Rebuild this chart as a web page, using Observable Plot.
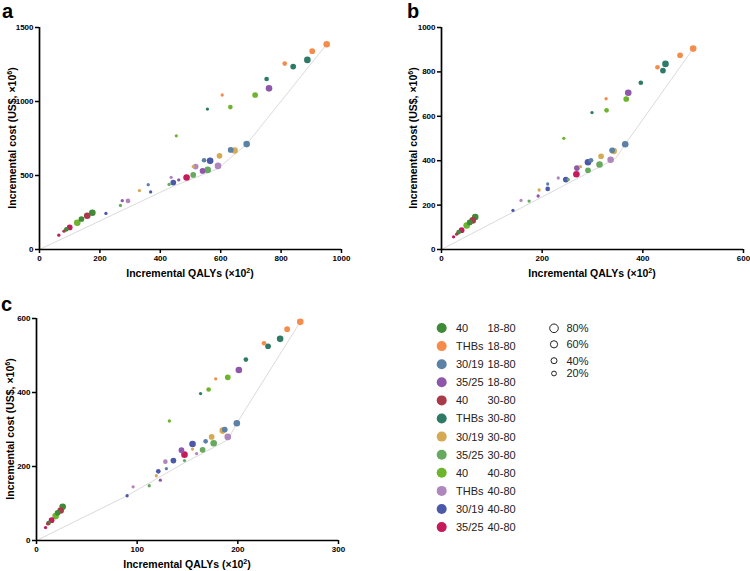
<!DOCTYPE html>
<html><head><meta charset="utf-8">
<script src="https://cdn.jsdelivr.net/npm/d3@7"></script>
<script src="https://cdn.jsdelivr.net/npm/@observablehq/plot@0.6"></script>
<style>
body{margin:0;background:#fff;font-family:Arial,"Liberation Sans",sans-serif;}
#root{position:relative;width:750px;height:571px;overflow:hidden;}
.panel{position:absolute;}
.letter{position:absolute;font-weight:bold;font-size:20px;line-height:1;color:#000;}
</style></head>
<body><div id="root"></div>
<script>
// Strategies (colour legend) and their colours
const series = ["40 18-80","THBs 18-80","30/19 18-80","35/25 18-80","40 30-80","THBs 30-80","30/19 30-80","35/25 30-80","40 40-80","THBs 40-80","30/19 40-80","35/25 40-80"];
const seriesName = ["40","THBs","30/19","35/25","40","THBs","30/19","35/25","40","THBs","30/19","35/25"];
const seriesAge = ["18-80","18-80","18-80","18-80","30-80","30-80","30-80","30-80","40-80","40-80","40-80","40-80"];
const colors = ["#3f8a36","#f58c4b","#5b81a6","#8f57a9","#a93a49","#2f7a67","#d5aa55","#67a95f","#6cb52d","#b087bc","#4b59a8","#c51a5c"];
const coverageLevels = [80, 60, 40, 20];

// Panel a
const aQaly = [951,903,812,605, 887,840,752,556, 714,632,453,125, 760,540,461,274, 591,517,436,293, 686,633,545,360, 646,596,509,331, 565,443,368,220, 557,509,429,268, 487,100,64, 175,139,89, 158,81];
const aCost = [1387,1340,1256,1044, 1281,1236,1152,949, 1044,962,768,181, 1089,531,470,330, 565,560,488,328, 712,673,603,438, 669,633,560,398, 599,452,389,244, 538,504,440,298, 486,149,97, 248,206,136, 228,124];
const aSer  = [1,1,1,1, 5,5,5,5, 8,8,8,8, 3,3,3,3, 9,9,9,9, 2,2,2,2, 6,6,6,6, 10,10,10,10, 7,7,7,7, 11,11,11, 0,0,0, 4,4];
const aCov  = [80,60,40,20, 80,60,40,20, 60,40,20,80, 80,60,20,20, 80,60,20,40, 80,60,40,20, 80,60,20,20, 80,60,20,20, 80,60,20,20, 80,60,20, 80,60,40, 80,20];
const aFrontQaly = [0, 440, 590, 686, 951];
const aFrontCost = [0, 425, 545, 712, 1387];

// Panel b
const bQaly = [500,474,429,327, 445,440,396,299, 367,328,243,50, 371,269,192, 336,232,158, 365,339,297,211, 342,317,276,194, 291,247,211,142, 314,291,252,174, 268,40,24, 67,56,34, 62,30];
const bCost = [905,875,821,679, 836,806,751,617, 678,627,501,108, 706,367,241, 404,322,221, 474,447,402,295, 444,420,373,268, 393,315,273,176, 383,357,315,218, 339,87,57, 146,122,78, 131,69];
const bSer  = [1,1,1,1, 5,5,5,5, 8,8,8,8, 3,3,3, 9,9,9, 2,2,2,2, 6,6,6,6, 10,10,10,10, 7,7,7,7, 11,11,11, 0,0,0, 4,4];
const bCov  = [80,60,40,20, 80,60,40,20, 60,40,20,80, 80,60,20, 80,20,20, 80,60,40,20, 80,60,20,20, 80,60,40,20, 80,60,20,20, 80,60,20, 80,60,40, 80,20];
const bFrontQaly = [0, 346, 365, 500];
const bFrontCost = [0, 410, 474, 905];

// Panel c
const cQaly = [262,249,226,178, 242,230,208,163, 190,171,132,19, 201,144,123, 190,159,128,96, 199,187,168,129, 185,174,155,119, 155,136,121,90, 176,165,147,112, 147,15,9, 26,21,12, 24,11];
const cCost = [591,571,533,437, 545,525,489,397, 441,408,323,66, 461,244,163, 280,235,213,145, 317,300,268,194, 297,280,247,175, 261,216,187,121, 263,245,216,148, 232,55,35, 91,75,47, 81,45];
const cSer  = [1,1,1,1, 5,5,5,5, 8,8,8,8, 3,3,3, 9,9,9,9, 2,2,2,2, 6,6,6,6, 10,10,10,10, 7,7,7,7, 11,11,11, 0,0,0, 4,4];
const cCov  = [80,60,40,20, 80,60,40,20, 60,40,20,80, 80,60,20, 80,20,40,20, 80,60,40,20, 80,60,20,20, 80,60,40,20, 80,60,20,20, 80,60,20, 80,60,40, 80,20];
const cFrontQaly = [0, 90, 147, 190, 199, 262];
const cFrontCost = [0, 121, 210, 272, 317, 591];

// Axis titles: [base text, superscript, closing text]
const xLabelParts = ["Incremental QALYs (×10", "2", ")"];
const yLabelParts = ["Incremental cost (US$, ×10", "6", ")"];
const FONT = "Arial, 'Liberation Sans', sans-serif";

function addLabel(svg, parts, x, y, rotate) {
  const t = d3.select(svg).append("text")
    .attr("transform", `translate(${x},${y})` + (rotate ? " rotate(-90)" : ""))
    .attr("text-anchor", "middle").attr("dy", "0.35em")
    .style("font-size", "10.5px").style("font-weight", "bold").attr("fill", "#000");
  t.append("tspan").text(parts[0]);
  t.append("tspan").attr("dy", "-4").style("font-size", "7px").text(parts[1]);
  t.append("tspan").attr("dy", "4").text(parts[2]);
}

function panel(o) {
  const pts = o.qaly.map((q, i) => ({q, c: o.cost[i], s: series[o.ser[i]], cov: o.cov[i]}));
  const front = o.fq.map((q, i) => ({q, c: o.fc[i]}));
  const svg = Plot.plot({
    width: o.width, height: o.height,
    marginLeft: o.ml, marginRight: o.mr, marginTop: o.mt, marginBottom: o.mb,
    style: {fontFamily: FONT, fontSize: "8px", fontWeight: "bold", color: "#000", background: "transparent", overflow: "visible"},
    x: {domain: [0, o.xMax]},
    y: {domain: [0, o.yMax]},
    color: {domain: series, range: colors},
    r: {domain: [0, 80], range: [0, 3.3]},
    marks: [
      Plot.line(front, {x: "q", y: "c", stroke: "#d6d6d6", strokeWidth: 0.9}),
      Plot.dot(pts, {x: "q", y: "c", r: "cov", fill: "s"}),
      Plot.ruleX([0], {stroke: "#000", strokeWidth: 1.7}),
      Plot.ruleY([0], {stroke: "#000", strokeWidth: 1.7}),
      Plot.axisX({ticks: o.xTicks, tickSize: 4, tickPadding: 2, tickFormat: d3.format("d"), label: null, strokeWidth: 1.5}),
      Plot.axisY({ticks: o.yTicks, tickSize: 4, tickPadding: 2, tickFormat: d3.format("d"), label: null, strokeWidth: 1.5})
    ]
  });
  const cx = (o.ml + o.width - o.mr) / 2, cy = (o.mt + o.height - o.mb) / 2;
  addLabel(svg, xLabelParts, cx, o.height - o.mb + o.xlo, false);
  addLabel(svg, yLabelParts, o.ml - o.ylo, cy, true);
  return svg;
}

const root = document.getElementById("root");
function place(node, left, top) {
  const d = document.createElement("div");
  d.className = "panel"; d.style.left = left + "px"; d.style.top = top + "px";
  d.appendChild(node); root.appendChild(d);
}
function letter(t, left, top) {
  const d = document.createElement("div");
  d.className = "letter"; d.textContent = t; d.style.left = left + "px"; d.style.top = top + "px";
  root.appendChild(d);
}

place(panel({qaly: aQaly, cost: aCost, ser: aSer, cov: aCov, fq: aFrontQaly, fc: aFrontCost,
  xMax: 1000, yMax: 1500, xTicks: [0,200,400,600,800,1000], yTicks: [0,500,1000,1500],
  width: 375, height: 290, ml: 39, mr: 34, mt: 27, mb: 41, xlo: 24, ylo: 27}), 0, 0);
place(panel({qaly: bQaly, cost: bCost, ser: bSer, cov: bCov, fq: bFrontQaly, fc: bFrontCost,
  xMax: 600, yMax: 1000, xTicks: [0,200,400,600], yTicks: [0,200,400,600,800,1000],
  width: 375, height: 290, ml: 66, mr: 7, mt: 27, mb: 41, xlo: 24, ylo: 28}), 375, 0);
place(panel({qaly: cQaly, cost: cCost, ser: cSer, cov: cCov, fq: cFrontQaly, fc: cFrontCost,
  xMax: 300, yMax: 600, xTicks: [0,100,200,300], yTicks: [0,200,400,600],
  width: 375, height: 281, ml: 36, mr: 37, mt: 28, mb: 31, xlo: 24, ylo: 26}), 0, 290);

letter("a", 2, 1);
letter("b", 407, 1);
letter("c", 1, 294);

// Legend
const lg = d3.create("svg").attr("width", 320).attr("height", 240)
  .style("font-family", FONT).style("font-size", "11px");
series.forEach((s, i) => {
  const y = 18 + i * 18.1;
  lg.append("circle").attr("cx", 11.7).attr("cy", y).attr("r", 5).attr("fill", colors[i]);
  lg.append("text").attr("x", 26).attr("y", y).attr("dy", "0.36em").attr("fill", "#222").text(seriesName[i]);
  lg.append("text").attr("x", 57.5).attr("y", y).attr("dy", "0.36em").attr("fill", "#222").text(seriesAge[i]);
});
const sizeY = [18.3, 34.3, 50.7, 63.5];
const sizeR = [4.3, 3.6, 3.0, 2.4];
coverageLevels.forEach((c, i) => {
  lg.append("circle").attr("cx", 124).attr("cy", sizeY[i]).attr("r", sizeR[i]).attr("fill", "none").attr("stroke", "#222").attr("stroke-width", 1);
  lg.append("text").attr("x", 136.5).attr("y", sizeY[i]).attr("dy", "0.36em").attr("fill", "#222").text(c + "%");
});
place(lg.node(), 430, 310);
</script>
</body></html>
